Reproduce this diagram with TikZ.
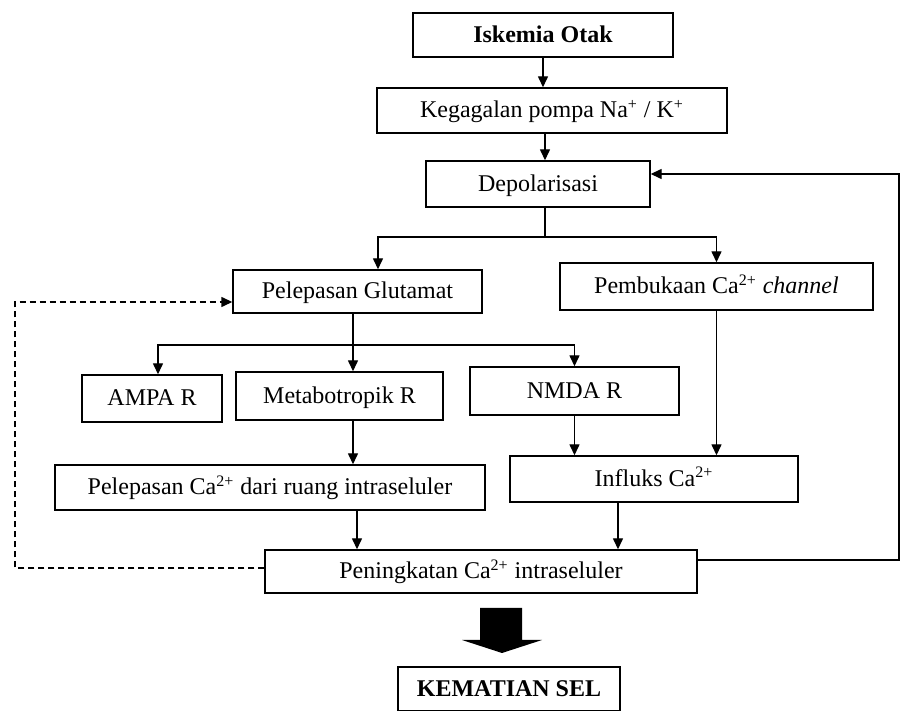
\documentclass[tikz,border=0pt]{standalone}
\usepackage{fontspec}
\setmainfont{Liberation Serif}
\usepackage{tikz}
\usetikzlibrary{arrows.meta,positioning}

\begin{document}
\begin{tikzpicture}[
  x=0.5pt, y=-0.5pt,
  font=\fontsize{12}{14}\selectfont,
  box/.style={draw, line width=0.7pt, inner sep=2pt, text height=9.5pt, text depth=2pt},
  arrow/.style={-{Triangle[length=5.5pt,width=5pt]}, line width=0.7pt},
  feedback/.style={arrow, dash pattern=on 3pt off 2pt}
]
\useasboundingbox (0,0) rectangle (902,711);

\node[box, minimum width=130pt, minimum height=22pt, font=\fontsize{12}{14}\selectfont\bfseries] (isk) at (543,35) {Iskemia Otak};
\node[box, minimum width=175pt, minimum height=22.5pt] (keg) at (552,110.5) {Kegagalan pompa Na\textsuperscript{+} / K\textsuperscript{+}};
\node[box, minimum width=112pt, minimum height=23pt] (dep) at (538,184) {Depolarisasi};
\node[box, minimum width=124.5pt, minimum height=21.5pt] (glu) at (357.5,291.5) {Pelepasan Glutamat};
\node[box, minimum width=156.5pt, minimum height=23.5pt] (pem) at (716.5,286.5) {Pembukaan Ca\textsuperscript{2+} \textit{channel}};
\node[box, minimum width=70pt, minimum height=23.5pt] (ampa) at (152,398.5) {AMPA R};
\node[box, minimum width=103.5pt, minimum height=24pt] (meta) at (339.5,396) {Metabotropik R};
\node[box, minimum width=104.5pt, minimum height=24pt] (nmda) at (574.5,391) {NMDA R};
\node[box, minimum width=215pt, minimum height=22.5pt] (pca) at (270,487.5) {Pelepasan Ca\textsuperscript{2+} dari ruang intraseluler};
\node[box, minimum width=144pt, minimum height=23pt] (inf) at (654,479) {Influks Ca\textsuperscript{2+}};
\node[box, minimum width=216pt, minimum height=21.5pt] (pen) at (481,571.5) {Peningkatan Ca\textsuperscript{2+} intraseluler};
\node[box, minimum width=111pt, minimum height=22pt, font=\fontsize{12}{14}\selectfont\bfseries] (kem) at (509,689) {KEMATIAN SEL};

\coordinate (fork1) at (545,237);
\coordinate (fork2) at (353,345);
\coordinate (dl) at (15,435);
\coordinate (dr) at (899,360);

\draw[arrow] (isk.south) -- ([xshift=-4.5pt]keg.north);
\draw[arrow] ([xshift=-3.5pt]keg.south) -- ([xshift=3.5pt]dep.north);
\draw[line width=0.7pt] ([xshift=3.5pt]dep.south) -- (fork1);
\draw[arrow] (fork1) -| ([xshift=10.25pt]glu.north);
\draw[arrow] (fork1) -| (pem.north);
\draw[line width=0.7pt] ([xshift=-2.25pt]glu.south) -- (fork2);
\draw[arrow] (fork2) -| ([xshift=3pt]ampa.north);
\draw[arrow] (fork2) -- ([xshift=6.75pt]meta.north);
\draw[arrow] (fork2) -| (nmda.north);
\draw[arrow] ([xshift=6.75pt]meta.south) -- ([xshift=41.5pt]pca.north);
\draw[arrow] (nmda.south) -- ([xshift=-39.75pt]inf.north);
\draw[arrow] (pem.south) -- ([xshift=31.25pt]inf.north);
\draw[arrow] ([xshift=43.5pt]pca.south) -- ([xshift=-62pt]pen.north);
\draw[arrow] ([xshift=-18pt]inf.south) -- ([xshift=68.5pt]pen.north);

% feedback loops
\draw[feedback] ([yshift=1.75pt]pen.west) -| (dl) |- ([yshift=-5.25pt]glu.west);
\draw[arrow] ([yshift=5.75pt]pen.east) -| (dr) |- ([yshift=5pt]dep.east);

% big arrow to cell death
\fill (480,608) -- (522,608) -- (522,640) -- (542,640) -- (502,653) -- (462,640) -- (480,640) -- cycle;
\end{tikzpicture}
\end{document}
